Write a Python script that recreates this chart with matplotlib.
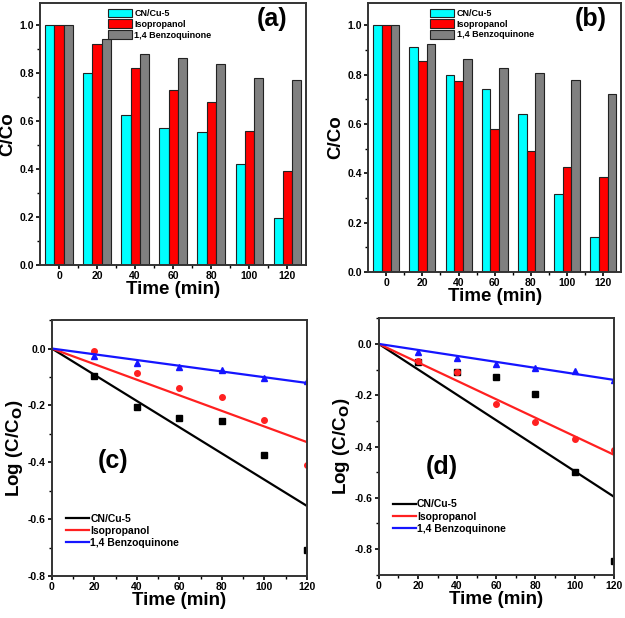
import numpy as np
import matplotlib
matplotlib.use("Agg")
import matplotlib.pyplot as plt
from matplotlib.ticker import MultipleLocator, FormatStrFormatter

plt.rcParams['font.family'] = ['Liberation Sans', 'DejaVu Sans']
plt.rcParams['font.weight'] = 'bold'

# ---------- data ----------
times = [0, 20, 40, 60, 80, 100, 120]
series_names = ["CN/Cu-5", "Isopropanol", "1,4 Benzoquinone"]

# C/Co bars, panel (a)
a_cn = [1.0, 0.80, 0.625, 0.57, 0.555, 0.42, 0.195]
a_iso = [1.0, 0.92, 0.82, 0.73, 0.68, 0.56, 0.39]
a_bq = [1.0, 0.94, 0.88, 0.86, 0.835, 0.78, 0.77]

# C/Co bars, panel (b)
b_cn = [1.0, 0.91, 0.80, 0.74, 0.64, 0.315, 0.14]
b_iso = [1.0, 0.855, 0.775, 0.58, 0.49, 0.425, 0.385]
b_bq = [1.0, 0.925, 0.865, 0.825, 0.805, 0.78, 0.72]

# log(C/Co), panel (c)
c_cn = [0, -0.095, -0.205, -0.245, -0.255, -0.375, -0.71]
c_iso = [0, -0.01, -0.085, -0.14, -0.17, -0.25, -0.41]
c_bq = [0, -0.025, -0.05, -0.065, -0.075, -0.105, -0.115]

# log(C/Co), panel (d)
d_cn = [0, -0.07, -0.11, -0.13, -0.195, -0.50, -0.845]
d_iso = [0, -0.065, -0.11, -0.235, -0.305, -0.37, -0.415]
d_bq = [0, -0.03, -0.055, -0.08, -0.095, -0.105, -0.14]

bar_colors = ["#00FFFF", "#FF0000", "#808080"]
line_colors = ["black", "#FF2020", "#1515FF"]
markers = ["s", "o", "^"]

fig = plt.figure(figsize=(6.25, 6.18), dpi=100)


def style_axes(ax):
    for s in ax.spines.values():
        s.set_linewidth(1.4)
        s.set_color("#333333")
    ax.tick_params(which="major", direction="out", length=3, width=1.2, labelsize=7.5, pad=1.5)
    ax.tick_params(which="minor", direction="out", length=2, width=1.0)
    for lab in ax.get_xticklabels() + ax.get_yticklabels():
        lab.set_fontweight("bold")


def bar_panel(rect, data, tag, tag_xy):
    ax = fig.add_axes(rect)
    x = np.arange(len(times))
    w = 0.24
    for i, (vals, col, name) in enumerate(zip(data, bar_colors, series_names)):
        ax.bar(x + (i - 1) * w, vals, w, color=col, edgecolor="#222222",
               linewidth=0.8, label=name)
    ax.set_xlim(-0.5, len(times) - 0.5)
    ax.set_ylim(0, 1.09)
    ax.set_xticks(x)
    ax.set_xticklabels([str(t) for t in times])
    ax.set_xticks(x[:-1] + 0.5, minor=True)
    ax.yaxis.set_major_locator(MultipleLocator(0.2))
    ax.yaxis.set_minor_locator(MultipleLocator(0.1))
    ax.yaxis.set_major_formatter(FormatStrFormatter("%.1f"))
    style_axes(ax)
    ax.set_xlabel("Time (min)", fontsize=13.5, fontweight="bold", labelpad=0)
    ax.set_ylabel("C/Co", fontsize=13.5, fontweight="bold", labelpad=2)
    ax.legend(loc="upper center", bbox_to_anchor=(0.45, 1.01), frameon=False,
              prop={"size": 6.5, "weight": "bold"}, handlelength=2.6,
              handleheight=1.1, labelspacing=0.15, handletextpad=0.3)
    ax.text(tag_xy[0], tag_xy[1], tag, transform=ax.transAxes, fontsize=18,
            fontweight="bold", ha="center", va="center")
    return ax


def line_panel(rect, data, tag, tag_xy, ylim, legend_y):
    ax = fig.add_axes(rect)
    t = np.array(times, dtype=float)
    handles = []
    for vals, col, m, name in zip(data, line_colors, markers, series_names):
        v = np.array(vals)
        k = np.sum(t * v) / np.sum(t * t)  # fit through origin
        h, = ax.plot(t, k * t, color=col, lw=1.6, label=name)
        handles.append(h)
        ax.plot(t[1:], v[1:], ls="none", marker=m, color=col, ms=4)
    ax.set_xlim(0, 120)
    ax.set_ylim(*ylim)
    ax.xaxis.set_major_locator(MultipleLocator(20))
    ax.xaxis.set_minor_locator(MultipleLocator(10))
    ax.yaxis.set_major_locator(MultipleLocator(0.2))
    ax.yaxis.set_minor_locator(MultipleLocator(0.1))
    ax.yaxis.set_major_formatter(FormatStrFormatter("%.1f"))
    style_axes(ax)
    ax.set_xlabel("Time (min)", fontsize=13.5, fontweight="bold", labelpad=0)
    ax.set_ylabel(r"Log (C/C$_\mathbf{O}$)", fontsize=13.5, fontweight="bold", labelpad=2)
    ax.legend(handles=handles, loc="upper left", bbox_to_anchor=(0.02, legend_y),
              frameon=False, prop={"size": 7.5, "weight": "bold"},
              handlelength=2.2, labelspacing=0.2, handletextpad=0.1)
    ax.text(tag_xy[0], tag_xy[1], tag, transform=ax.transAxes, fontsize=18,
            fontweight="bold", ha="center", va="center")
    return ax


bar_panel([0.064, 0.571, 0.426, 0.424], [a_cn, a_iso, a_bq], "(a)", (0.87, 0.94))
bar_panel([0.589, 0.560, 0.405, 0.435], [b_cn, b_iso, b_bq], "(b)", (0.88, 0.94))
line_panel([0.083, 0.068, 0.408, 0.414], [c_cn, c_iso, c_bq], "(c)", (0.24, 0.45),
           (-0.8, 0.1), 0.28)
line_panel([0.606, 0.070, 0.376, 0.415], [d_cn, d_iso, d_bq], "(d)", (0.27, 0.42),
           (-0.9, 0.1), 0.33)

fig.savefig("out.png", dpi=100)
